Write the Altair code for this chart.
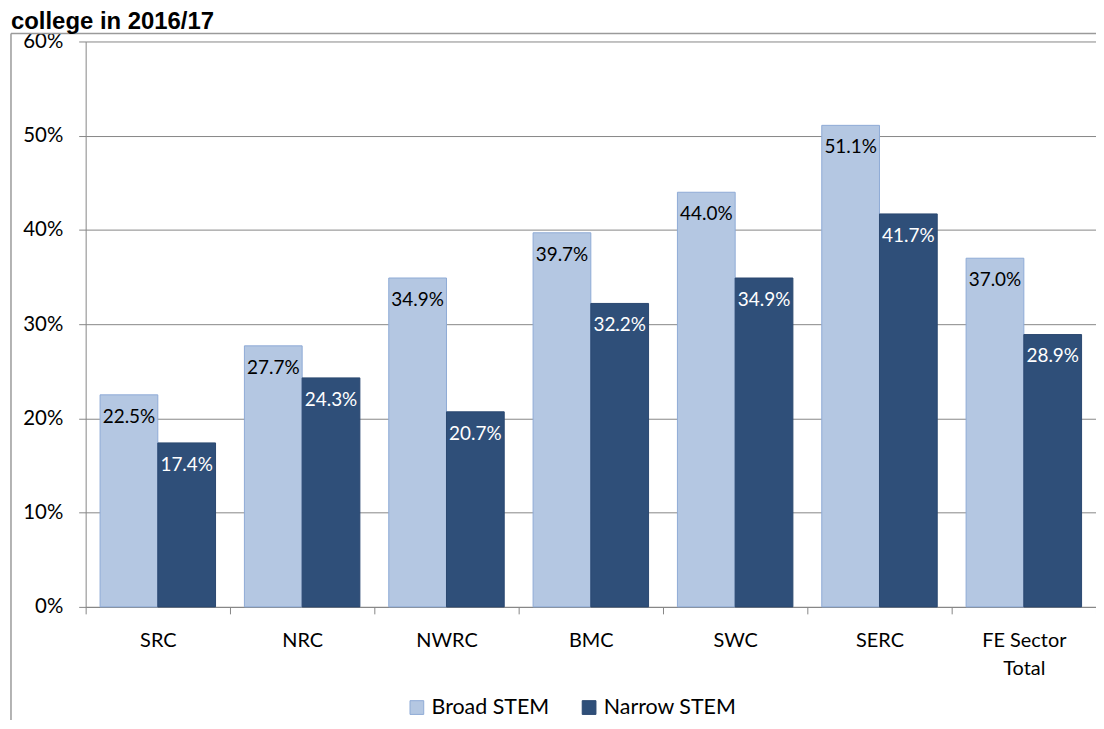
import altair as alt
import pandas as pd

categories = ["SRC", "NRC", "NWRC", "BMC", "SWC", "SERC", "FE Sector Total"]
series = ["Broad STEM", "Narrow STEM"]
broad = [22.5, 27.7, 34.9, 39.7, 44.0, 51.1, 37.0]
narrow = [17.4, 24.3, 20.7, 32.2, 34.9, 41.7, 28.9]
y_ticks = [0, 0.1, 0.2, 0.3, 0.4, 0.5, 0.6]
title_text = "college in 2016/17"

rows = []
for c, b, n in zip(categories, broad, narrow):
    rows.append({"cat": c, "series": series[0], "value": b / 100})
    rows.append({"cat": c, "series": series[1], "value": n / 100})
df = pd.DataFrame(rows)

FONT = "Lato"
W, H = 1015, 568
TOP = 32

x_enc = alt.X("cat:N", sort=categories,
              scale=alt.Scale(paddingInner=0, paddingOuter=0),
              axis=alt.Axis(title=None, labelAngle=0, labelFont=FONT, labelFontSize=20,
                            labelColor="#000", domainColor="#868686", tickColor="#868686",
                            tickSize=7, tickBand="extent", labelPadding=17,
                            labelLineHeight=28,
                            labelExpr="datum.label == 'FE Sector Total' ? ['FE Sector', 'Total'] : datum.label"))
xoff = alt.XOffset("series:N", sort=series, scale=alt.Scale(paddingOuter=0.25, paddingInner=0))
y_enc = alt.Y("value:Q", scale=alt.Scale(domain=[0, 0.6], nice=False),
              axis=alt.Axis(title=None, values=y_ticks, format=".0%", labelFont=FONT,
                            labelFontSize=20.5, labelColor="#000", domainColor="#868686",
                            tickColor="#868686", gridColor="#868686", tickSize=7,
                            labelPadding=16, grid=True))

color_scale = alt.Scale(domain=series, range=["#b4c7e2", "#2f4f79"])
stroke_scale = alt.Scale(domain=series, range=["#8eaad6", "#2a4870"])
legend = alt.Legend(title=None, orient="none", direction="horizontal",
                    legendX=322, legendY=658, symbolType="square", symbolSize=190,
                    symbolStrokeWidth=1, labelFont=FONT, labelFontSize=21.5,
                    labelColor="#000", labelOffset=4, columnPadding=29)

bars = alt.Chart(df).mark_bar(strokeWidth=1).encode(
    x=x_enc, xOffset=xoff, y=y_enc,
    color=alt.Color("series:N", scale=color_scale, sort=series, legend=legend),
    stroke=alt.Stroke("series:N", scale=stroke_scale, sort=series, legend=legend),
)

labels = alt.Chart(df).mark_text(font=FONT, fontSize=19, baseline="middle", dy=22).encode(
    x=alt.X("cat:N", sort=categories), xOffset=alt.XOffset("series:N", sort=series),
    y="value:Q",
    text=alt.Text("value:Q", format=".1%"),
    color=alt.condition("datum.series == 'Broad STEM'", alt.value("#000000"), alt.value("#ffffff")),
)

deco = alt.Data(values=[{}])
frame_top = alt.Chart(deco).mark_rule(color="#9a9a9a", strokeWidth=1.5).encode(
    x=alt.value(-75), x2=alt.value(W + 20), y=alt.value(-8))
frame_left = alt.Chart(deco).mark_rule(color="#9a9a9a", strokeWidth=1.5).encode(
    x=alt.value(-75), y=alt.value(-8), y2=alt.value(H + 200))
title = alt.Chart(deco).mark_text(font="Liberation Sans", fontWeight="bold", fontSize=24,
                                  align="left", baseline="alphabetic").encode(
    x=alt.value(-75), y=alt.value(-13), text=alt.value(title_text))

chart = alt.layer(frame_top, frame_left, title, bars, labels).properties(
    width=W, height=H,
    autosize=alt.AutoSizeParams(type="none"),
    padding={"left": 78, "top": TOP, "right": 0, "bottom": 712 - TOP - H},
).configure_view(stroke=None)

chart.save("out.html", embed_options={"renderer": "svg", "actions": False})
